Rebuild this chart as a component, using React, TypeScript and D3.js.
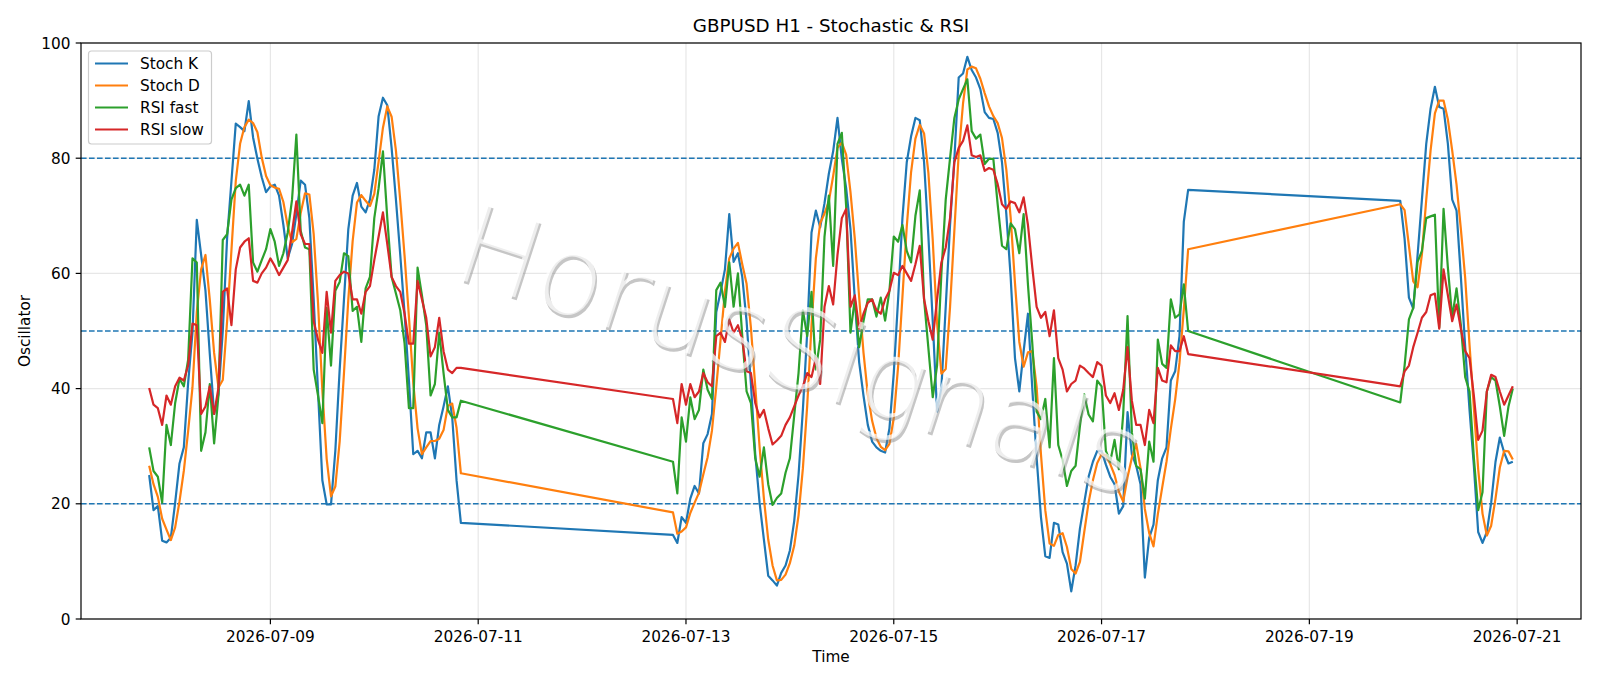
import React from "react";
import * as d3 from "d3";

// ---------- data ----------
const segmentStarts = ["2026-07-07T20:00:00Z", "2026-07-12T21:00:00Z", "2026-07-19T21:00:00Z"];
const segmentLengths = [73, 120, 27];

const stochK = [
  // 07-07 20:00 .. 07-10 20:00
  25.0, 18.9, 19.6, 13.6, 13.3, 14.1, 20.2, 27.0, 29.8, 41.0,
  49.7, 69.3, 63.2, 57.0, 46.0, 35.6, 39.0, 50.0, 66.1, 76.0,
  86.0, 85.4, 84.7, 89.9, 83.6, 79.9, 76.7, 74.1, 75.1, 75.4,
  73.5, 68.4, 62.6, 65.1, 70.3, 76.1, 75.4, 69.6, 55.5, 39.5,
  24.1, 19.9, 19.9, 29.2, 43.3, 55.5, 67.7, 73.5, 75.7, 71.6,
  70.6, 72.8, 78.0, 87.3, 90.5, 89.2, 81.8, 72.8, 63.2, 53.0,
  41.4, 28.6, 29.2, 27.9, 32.4, 32.4, 27.9, 33.7, 36.9, 40.4,
  35.0, 24.1, 16.7,
  // 07-12 21:00 .. 07-17 20:00
  14.6, 13.2, 17.7, 16.7, 20.9, 23.1, 21.8, 30.5, 32.1, 35.6,
  53.3, 56.8, 60.7, 70.3, 62.0, 63.5, 59.4, 51.7, 40.8, 28.6,
  20.2, 13.8, 7.5, 6.7, 5.8, 8.0, 9.3, 11.9, 17.0, 25.0,
  36.3, 49.7, 67.1, 70.9, 68.0, 72.2, 77.3, 81.2, 87.0, 79.9,
  74.8, 67.7, 55.5, 44.6, 38.8, 33.7, 30.8, 29.8, 29.2, 28.9,
  33.1, 42.7, 55.5, 69.6, 79.3, 83.8, 87.0, 86.6, 79.3, 66.4,
  51.7, 36.0, 40.1, 54.2, 68.4, 79.9, 94.0, 94.7, 97.6, 95.3,
  94.0, 92.0, 88.0, 87.0, 86.8, 84.4, 79.3, 70.3, 59.4, 45.3,
  39.5, 46.5, 53.0, 40.0, 28.0, 17.7, 10.9, 10.6, 16.7, 16.4,
  11.6, 9.6, 4.8, 9.3, 15.7, 20.2, 24.7, 27.3, 29.2, 29.2,
  26.8, 24.7, 23.4, 18.3, 19.6, 35.9, 28.6, 26.6, 23.4, 7.2,
  14.1, 16.4, 24.1, 27.9, 29.8, 41.4, 43.0, 49.1, 69.0, 74.5,
  // 07-19 21:00 .. 07-20 23:00
  72.6, 66.0, 55.8, 53.9, 63.2, 72.8, 82.5, 88.6, 92.4, 88.9,
  88.6, 82.5, 72.8, 70.9, 59.4, 47.2, 36.3, 26.6, 15.1, 13.2,
  15.1, 20.2, 27.3, 31.5, 28.9, 27.0, 27.3,
];

const stochD = [
  26.6, 23.4, 21.2, 17.4, 15.5, 13.7, 15.9, 20.4, 25.7, 32.6,
  40.2, 53.3, 60.7, 63.2, 55.4, 46.2, 40.2, 41.5, 51.7, 64.0,
  76.0, 82.5, 85.4, 86.7, 86.1, 84.5, 80.1, 76.9, 75.3, 74.9,
  74.7, 72.4, 68.2, 65.4, 66.0, 70.5, 73.9, 73.7, 66.8, 54.9,
  39.7, 27.8, 21.3, 23.0, 30.8, 42.7, 55.5, 65.6, 72.3, 73.6,
  72.6, 71.7, 73.8, 79.4, 85.3, 89.0, 87.2, 81.3, 72.6, 63.0,
  52.5, 41.0, 33.1, 28.6, 29.8, 30.9, 30.9, 31.3, 32.8, 37.0,
  37.4, 33.2, 25.3,
  18.5, 14.8, 15.2, 15.9, 18.4, 20.2, 21.9, 25.1, 28.1, 32.7,
  40.3, 48.6, 56.9, 62.6, 64.3, 65.3, 61.6, 58.2, 50.6, 40.4,
  29.9, 20.9, 13.8, 9.3, 6.7, 6.8, 7.7, 9.7, 12.7, 18.0,
  26.1, 37.0, 51.0, 62.6, 68.7, 70.4, 72.5, 76.9, 81.8, 82.7,
  80.6, 74.1, 66.0, 55.9, 46.3, 39.0, 34.4, 31.4, 29.9, 29.3,
  30.4, 34.9, 43.8, 55.9, 68.1, 77.6, 83.4, 85.8, 84.3, 77.4,
  65.8, 51.4, 42.6, 43.4, 54.2, 67.5, 80.8, 89.5, 95.4, 95.9,
  95.6, 93.8, 91.3, 89.0, 87.3, 86.1, 83.5, 78.0, 69.7, 58.3,
  48.1, 43.8, 46.3, 46.5, 40.3, 28.6, 18.9, 13.1, 12.7, 14.6,
  14.9, 12.5, 8.7, 7.9, 9.9, 15.1, 20.2, 24.1, 27.1, 28.6,
  28.4, 26.9, 25.0, 22.1, 20.4, 24.6, 28.0, 30.4, 26.2, 19.1,
  14.9, 12.6, 18.2, 22.8, 27.3, 33.0, 38.1, 44.5, 53.7, 64.2,
  72.0, 71.0, 64.8, 58.6, 57.6, 63.3, 72.8, 81.3, 87.8, 90.0,
  90.0, 86.7, 81.3, 75.4, 67.7, 59.2, 47.6, 36.7, 26.0, 18.3,
  14.5, 16.2, 20.9, 26.3, 29.2, 29.1, 27.7,
];

const rsiFast = [
  29.8, 25.7, 24.7, 20.2, 33.7, 30.2, 37.5, 41.7, 40.4, 45.0,
  62.6, 61.9, 29.2, 32.4, 40.8, 30.5, 38.8, 65.8, 66.8, 72.8,
  74.8, 75.4, 73.5, 75.4, 61.9, 60.3, 62.3, 64.2, 67.7, 65.5,
  61.3, 63.5, 67.1, 72.8, 84.1, 67.4, 64.5, 64.2, 43.3, 38.8,
  34.0, 54.0, 44.0, 57.0, 58.5, 63.5, 63.0, 53.5, 54.2, 48.1,
  57.4, 59.4, 69.6, 74.8, 81.2, 69.6, 59.4, 56.5, 53.6, 47.8,
  36.6, 36.6, 61.0, 56.2, 51.0, 38.8, 40.8, 49.7, 42.7, 36.3,
  35.0, 35.0, 37.9,
  27.3, 21.8, 35.0, 30.8, 38.5, 34.7, 36.3, 43.3, 39.8, 38.2,
  57.1, 58.4, 54.2, 61.9, 54.2, 60.0, 49.1, 39.5, 37.5, 27.9,
  24.7, 29.8, 23.4, 19.8, 21.0, 21.8, 25.4, 27.9, 35.3, 42.7,
  53.6, 49.1, 56.8, 43.3, 48.5, 66.4, 73.5, 61.3, 82.5, 84.4,
  71.6, 49.7, 55.5, 47.2, 51.7, 55.5, 55.5, 52.5, 55.8, 51.8,
  57.0, 66.4, 65.5, 68.4, 63.9, 61.9, 70.0, 74.4, 55.5, 47.0,
  38.5, 44.0, 60.0, 72.8, 80.0, 87.0, 90.2, 92.0, 93.7, 84.7,
  83.4, 84.1, 79.0, 79.9, 79.9, 72.0, 64.8, 64.2, 68.7, 67.7,
  63.5, 70.3, 58.0, 47.8, 36.0, 34.7, 38.2, 29.8, 45.3, 30.2,
  27.6, 23.1, 25.7, 26.6, 33.5, 39.0, 35.5, 34.3, 41.4, 40.4,
  29.2, 27.3, 31.1, 26.0, 35.6, 52.6, 32.4, 26.6, 26.0, 20.9,
  30.8, 27.3, 48.5, 44.3, 43.6, 55.5, 52.3, 52.9, 58.1, 50.0,
  37.6, 44.0, 52.0, 54.0, 62.0, 63.9, 69.6, 69.9, 70.2, 50.6,
  71.2, 61.0, 52.3, 57.4, 51.0, 42.0, 39.5, 28.0, 18.9, 22.0,
  39.5, 42.0, 41.4, 36.9, 31.8, 36.9, 40.0,
];

const rsiSlow = [
  40.1, 37.2, 36.6, 33.7, 38.8, 37.2, 40.4, 41.9, 41.4, 44.0,
  51.3, 51.0, 35.6, 36.9, 40.4, 35.6, 40.1, 56.8, 57.4, 51.0,
  60.7, 64.5, 65.5, 66.1, 58.7, 58.4, 60.0, 61.0, 62.6, 61.3,
  59.7, 61.0, 62.3, 67.1, 72.5, 66.8, 65.1, 65.1, 51.7, 48.5,
  46.2, 56.8, 49.7, 58.7, 59.7, 60.3, 60.0, 55.5, 55.5, 53.0,
  56.8, 57.8, 62.3, 66.4, 70.6, 65.1, 59.4, 57.8, 56.8, 53.0,
  47.8, 47.8, 58.7, 55.5, 52.3, 45.6, 47.2, 52.3, 46.5, 43.3,
  42.7, 43.6, 43.6,
  38.2, 34.0, 40.8, 37.2, 40.8, 38.5, 39.5, 42.7, 41.1, 40.4,
  49.1, 49.7, 48.1, 52.0, 49.7, 51.0, 48.5, 43.0, 42.7, 37.5,
  35.0, 36.3, 33.1, 30.3, 31.0, 31.8, 33.7, 35.0, 36.9, 38.8,
  40.4, 42.7, 42.0, 45.3, 40.8, 54.2, 57.8, 54.6, 63.2, 69.6,
  71.2, 54.2, 56.2, 50.4, 53.0, 54.9, 55.5, 53.6, 53.0, 55.5,
  57.0, 60.1, 59.7, 61.3, 60.0, 58.7, 61.6, 64.8, 55.5, 51.7,
  48.5, 55.5, 61.9, 64.5, 69.6, 79.3, 81.8, 83.0, 85.7, 80.5,
  80.2, 80.5, 77.8, 78.3, 78.0, 75.5, 72.0, 71.2, 72.5, 72.2,
  70.6, 73.2, 68.4, 61.0, 54.2, 52.3, 53.3, 49.1, 53.6, 45.3,
  43.3, 39.5, 40.8, 41.4, 44.0, 43.5, 42.7, 42.0, 44.6, 44.0,
  38.8, 37.5, 39.2, 36.3, 39.8, 47.2, 37.9, 33.7, 33.7, 30.2,
  36.3, 34.0, 43.6, 41.4, 41.1, 47.5, 46.5, 46.5, 49.1, 46.0,
  40.4, 43.0, 44.0, 47.2, 49.7, 52.3, 53.3, 56.2, 56.5, 50.4,
  60.7, 56.2, 51.7, 54.6, 50.4, 46.5, 45.3, 38.8, 31.1, 32.7,
  39.5, 42.4, 42.0, 39.5, 37.2, 38.8, 40.4,
];

const seriesNames = ["Stoch K", "Stoch D", "RSI fast", "RSI slow"];
const seriesColors = ["#1f77b4", "#ff7f0e", "#2ca02c", "#d62728"];
const levelLines = [20, 50, 80];
const yTicks = [0, 20, 40, 60, 80, 100];
const xTickLabels = ["2026-07-09", "2026-07-11", "2026-07-13", "2026-07-15", "2026-07-17", "2026-07-19", "2026-07-21"];
const titleText = "GBPUSD H1 - Stochastic & RSI";
const watermark = "HorusSignals";

// ---------- layout ----------
const W = 1600;
const H = 686;
const PL = 81, PR = 1581, PT = 43, PB = 619;
const FONT = "'DejaVu Sans', 'Liberation Sans', sans-serif";

export default function App() {
  const hour = 3600 * 1000;
  const times: Date[] = [];
  segmentStarts.forEach((s, si) => {
    const t0 = Date.parse(s);
    for (let i = 0; i < segmentLengths[si]; i++) times.push(new Date(t0 + i * hour));
  });
  const series = [stochK, stochD, rsiFast, rsiSlow];
  const pad = (times[times.length - 1].getTime() - times[0].getTime()) * 0.05;
  const x = d3
    .scaleUtc()
    .domain([new Date(times[0].getTime() - pad), new Date(times[times.length - 1].getTime() + pad)])
    .range([PL, PR]);
  const y = d3.scaleLinear().domain([0, 100]).range([PB, PT]);
  const line = d3
    .line<number>()
    .x((_, i) => x(times[i]))
    .y((d) => y(d));
  const xTicks = xTickLabels.map((s) => new Date(s + "T00:00:00Z"));
  const fmt = d3.utcFormat("%Y-%m-%d");
  const mismatch = series.some((s) => s.length !== times.length);

  return (
    <svg
      width={W}
      height={H}
      viewBox={`0 0 ${W} ${H}`}
      style={{ position: "absolute", left: 0, top: 0, background: "#fff" }}
      fontFamily={FONT}
    >
      <defs>
        <clipPath id="plot">
          <rect x={PL} y={PT} width={PR - PL} height={PB - PT} />
        </clipPath>
      </defs>
      <rect x={0} y={0} width={W} height={H} fill="#fff" />

      {/* grid */}
      <g stroke="#b0b0b0" strokeOpacity={0.3} strokeWidth={1.2}>
        {xTicks.map((t, i) => (
          <line key={"gx" + i} x1={x(t)} x2={x(t)} y1={PT} y2={PB} />
        ))}
        {yTicks.map((v, i) => (
          <line key={"gy" + i} x1={PL} x2={PR} y1={y(v)} y2={y(v)} />
        ))}
      </g>

      {/* level lines */}
      <g stroke="#1f77b4" strokeWidth={1.5} strokeDasharray="5.6 2.4">
        {levelLines.map((v) => (
          <line key={"lv" + v} x1={PL} x2={PR} y1={y(v)} y2={y(v)} />
        ))}
      </g>

      {/* series */}
      <g clipPath="url(#plot)" fill="none" strokeWidth={2.2} strokeLinejoin="round" strokeLinecap="butt">
        {series.map((s, si) => (
          <path key={seriesNames[si]} d={line(s) || ""} stroke={seriesColors[si]} />
        ))}
      </g>

      {/* watermark */}
      <g transform="translate(800,352) rotate(18)" fontSize={110} textAnchor="middle" fontWeight={200}>
        <text x={2.5} y={38.5} fill="#808080" fillOpacity={0.45}>
          {watermark}
        </text>
        <text x={0} y={36} fill="#ffffff" fillOpacity={0.7}>
          {watermark}
        </text>
      </g>

      {/* spines */}
      <rect x={PL} y={PT} width={PR - PL} height={PB - PT} fill="none" stroke="#000" strokeWidth={1.2} />

      {/* x ticks */}
      <g fontSize={15.3} fill="#000" textAnchor="middle">
        {xTicks.map((t, i) => (
          <g key={"xt" + i}>
            <line x1={x(t)} x2={x(t)} y1={PB} y2={PB + 5.3} stroke="#000" strokeWidth={1.2} />
            <text x={x(t)} y={642}>
              {fmt(t)}
            </text>
          </g>
        ))}
      </g>

      {/* y ticks */}
      <g fontSize={15.3} fill="#000" textAnchor="end">
        {yTicks.map((v) => (
          <g key={"yt" + v}>
            <line x1={PL - 5.3} x2={PL} y1={y(v)} y2={y(v)} stroke="#000" strokeWidth={1.2} />
            <text x={PL - 10.6} y={y(v) + 5.5}>
              {v}
            </text>
          </g>
        ))}
      </g>

      {/* axis labels & title */}
      <text x={(PL + PR) / 2} y={662} fontSize={15.3} textAnchor="middle" fill="#000">
        Time
      </text>
      <text transform={`translate(30,${(PT + PB) / 2}) rotate(-90)`} fontSize={15.3} textAnchor="middle" fill="#000">
        Oscillator
      </text>
      <text x={(PL + PR) / 2} y={32} fontSize={18.3} textAnchor="middle" fill="#000">
        {titleText}
      </text>

      {/* legend */}
      <g>
        <rect x={88.5} y={51} width={123} height={93} rx={3} ry={3} fill="#fff" fillOpacity={0.8} stroke="#cccccc" strokeWidth={1.2} />
        {seriesNames.map((n, i) => (
          <g key={"lg" + n}>
            <line x1={95} x2={128} y1={63.5 + i * 22} y2={63.5 + i * 22} stroke={seriesColors[i]} strokeWidth={2.2} />
            <text x={140} y={63.5 + i * 22 + 5.5} fontSize={15.3} fill="#000">
              {n}
            </text>
          </g>
        ))}
      </g>

      {mismatch && (
        <text x={10} y={680} fontSize={10} fill="red">
          {series.map((s) => s.length).join(",") + " vs " + times.length}
        </text>
      )}
    </svg>
  );
}
